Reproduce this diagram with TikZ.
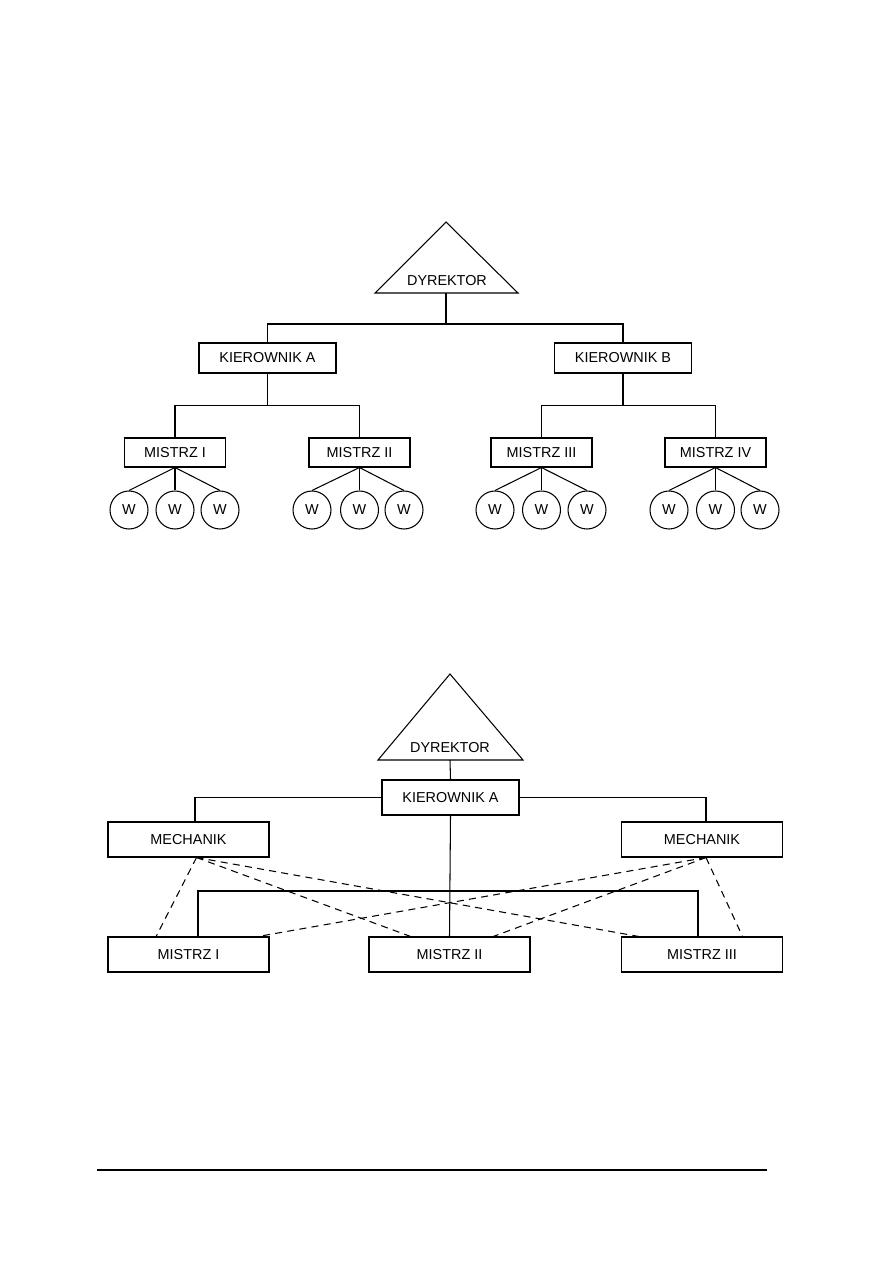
\documentclass[tikz,border=0pt]{standalone}
\usepackage{fontspec}
\setmainfont{Liberation Sans}
\usetikzlibrary{calc}

\begin{document}
\begin{tikzpicture}[
    x=0.02cm, y=-0.02cm,
    font=\fontsize{8.2}{10}\selectfont,
    line width=0.6pt,
    kbox/.style={draw, inner sep=0pt, minimum width=2.74cm, minimum height=0.6cm},
    mbox/.style={draw, inner sep=0pt, minimum width=2.02cm, minimum height=0.58cm},
    bbox/.style={draw, inner sep=0pt, minimum width=3.22cm, minimum height=0.7cm},
    worker/.style={draw, circle, inner sep=0pt, minimum size=0.76cm},
    dashlink/.style={dash pattern=on 4pt off 3pt}
]
\useasboundingbox (0,0) rectangle (893,1263);

% --- upper chart
\draw (446,222) -- (518,293) -- (375,293) -- cycle;
\node (dyr1) at (447,281) {DYREKTOR};
\coordinate (dyr1b) at (446,293);

\node[kbox] (kierA) at (267.5,358) {KIEROWNIK A};
\node[kbox] (kierB) at (623,358) {KIEROWNIK B};

\node[mbox] (m1) at (175,452.5) {MISTRZ I};
\node[mbox] (m2) at (359.5,452.5) {MISTRZ II};
\node[mbox] (m3) at (541.5,452.5) {MISTRZ III};
\node[mbox] (m4) at (715.5,452.5) {MISTRZ IV};

\draw (dyr1b) -- ++(0,31) coordinate (bus1);
\draw (kierA.north) |- (bus1) -| (kierB.north);
\draw (kierA.south) -- ++(0,32) coordinate (busA);
\draw (m1.north) |- (busA) -| (m2.north);
\draw (kierB.south) -- ++(0,32) coordinate (busB);
\draw (m3.north) |- (busB) -| (m4.north);

\foreach \m/\xa/\xb/\xc in {m1/129/175/220, m2/312/359.5/404, m3/495/541.5/587, m4/669/715.5/760} {
  \node[worker] (\m-a) at (\xa,510) {W};
  \node[worker] (\m-b) at (\xb,510) {W};
  \node[worker] (\m-c) at (\xc,510) {W};
  \draw (\m.south) -- (\m-a.north);
  \draw (\m.south) -- (\m-b.north);
  \draw (\m.south) -- (\m-c.north);
}

% --- lower chart
\draw (450,674) -- (523,760) -- (378,760) -- cycle;
\node (dyr2) at (450,748) {DYREKTOR};
\coordinate (dyr2b) at (450,760);

\node[kbox, minimum height=0.7cm] (kA2) at (450.5,797.5) {KIEROWNIK A};
\node[bbox] (mechL) at (188.5,839.5) {MECHANIK};
\node[bbox] (mechR) at (702,839.5) {MECHANIK};
\node[bbox] (n1) at (188.5,954.5) {MISTRZ I};
\node[bbox] (n2) at (449.5,954.5) {MISTRZ II};
\node[bbox] (n3) at (702,954.5) {MISTRZ III};

\draw (dyr2b) -- (kA2.north);
\draw ([xshift=0.13cm]mechL.north) |- (kA2.west);
\draw ([xshift=0.08cm]mechR.north) |- (kA2.east);
\draw (kA2.south) -- (n2.north);
\coordinate (bus2) at (450,891);
\draw ([xshift=0.19cm]n1.north) |- (bus2) -| ([xshift=-0.08cm]n3.north);

\coordinate (mL) at ([xshift=0.16cm]mechL.south);
\coordinate (mR) at ([xshift=0.08cm]mechR.south);
\draw[dashlink] (mL) -- ($(n1.north west)!0.3!(n1.north east)$);
\draw[dashlink] (mL) -- ($(n2.north west)!0.26!(n2.north east)$);
\draw[dashlink] (mL) -- ($(n3.north west)!0.11!(n3.north east)$);
\draw[dashlink] (mR) -- ($(n3.north west)!0.75!(n3.north east)$);
\draw[dashlink] (mR) -- ($(n2.north west)!0.77!(n2.north east)$);
\draw[dashlink] (mR) -- ($(n1.north west)!0.93!(n1.north east)$);

% footer rule
\draw[line width=0.7pt] (97,1170) -- (767,1170);
\end{tikzpicture}
\end{document}
